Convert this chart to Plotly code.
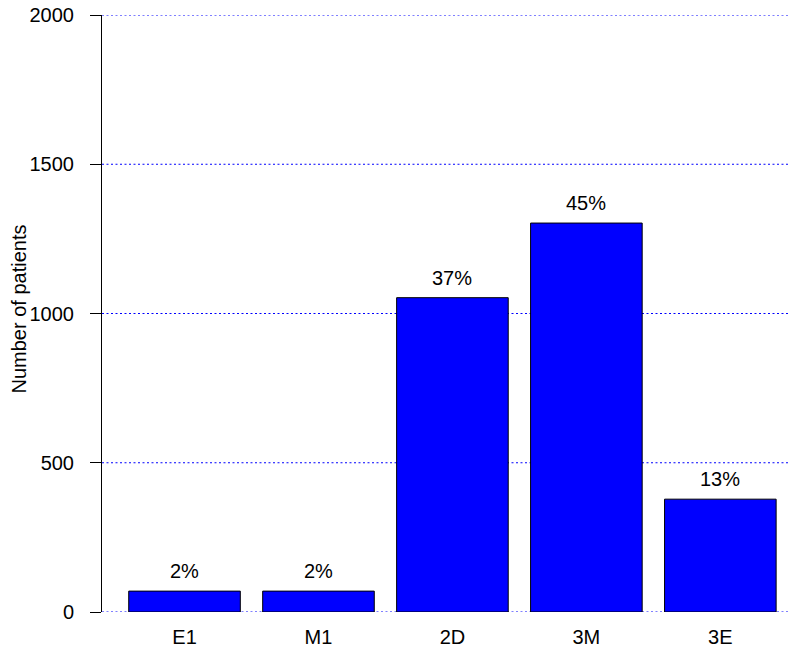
import plotly.graph_objects as go

categories = ["E1", "M1", "2D", "3M", "3E"]
patients = [70, 70, 1053, 1303, 378]
pct_labels = ["2%", "2%", "37%", "45%", "13%"]
y_ticks = [0, 500, 1000, 1500, 2000]

FONT = "Liberation Sans, Arial, Helvetica, sans-serif"
FS = 20

fig = go.Figure()
fig.add_trace(go.Bar(
    x=categories, y=patients,
    marker=dict(color="#0000FF", line=dict(color="black", width=1)),
    showlegend=False, hoverinfo="x+y",
))

for c, v, t in zip(categories, patients, pct_labels):
    fig.add_annotation(x=c, y=v, text=t, showarrow=False,
                       yanchor="middle", yshift=20,
                       font=dict(family=FONT, size=FS, color="black"))

# y-axis title
fig.add_annotation(x=0, y=0.5, xref="paper", yref="paper", xanchor="center",
                   yanchor="middle", xshift=-84, yshift=4, textangle=-90,
                   text="Number of patients", showarrow=False,
                   font=dict(family=FONT, size=FS, color="black"))

# dotted blue gridlines at each y tick, drawn beneath the bars
for v in y_ticks:
    fig.add_hline(y=v, line=dict(color="blue", width=1, dash="2px,2.5px"),
                  layer="below")

fig.update_layout(
    width=795, height=655,
    margin=dict(l=102, r=5, t=15, b=43, autoexpand=False),
    paper_bgcolor="white", plot_bgcolor="white",
    bargap=0.167,
    font=dict(family=FONT, size=FS, color="black"),
    xaxis=dict(
        range=[-0.616, 4.52], showline=False, showgrid=False, zeroline=False,
        ticks="", tickfont=dict(size=FS), ticklabelstandoff=11, automargin=False,
    ),
    yaxis=dict(
        range=[0, 2000], tickvals=y_ticks, ticktext=[str(v) for v in y_ticks],
        showline=True, linecolor="black", linewidth=1,
        ticks="outside", ticklen=11, tickcolor="black", tickwidth=1,
        showgrid=False, zeroline=False, tickfont=dict(size=FS),
        ticklabelstandoff=12, automargin=False,
    ),
)

fig.write_html(
    "out.html",
    config={"displayModeBar": False},
    post_script="document.body.style.margin='0';document.body.style.overflow='hidden';",
)
